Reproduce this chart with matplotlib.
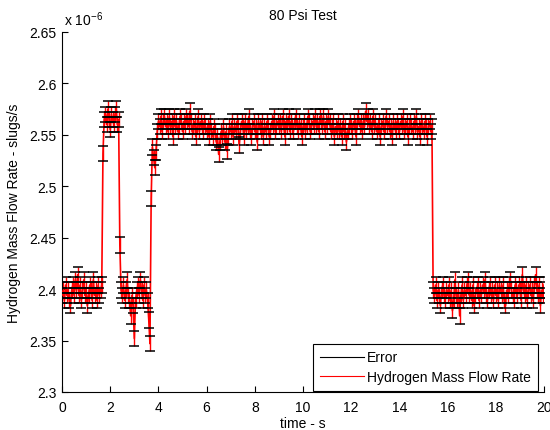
import matplotlib
matplotlib.use("Agg")
import matplotlib.pyplot as plt
import numpy as np
from matplotlib.lines import Line2D

plt.rcParams['font.family'] = ['Liberation Sans', 'DejaVu Sans']
plt.rcParams['font.size'] = 10
plt.rcParams['mathtext.fontset'] = 'custom'
plt.rcParams['mathtext.rm'] = 'Liberation Sans'

# Hydrogen mass flow rate (x 1e-6 slugs/s), sampled every 0.05 s from 0 to 20 s
dt = 0.05

low_start = [2.394, 2.399, 2.389, 2.404, 2.394, 2.399, 2.389, 2.384, 2.399, 2.404,
             2.394, 2.409, 2.399, 2.414, 2.394, 2.404, 2.389, 2.399, 2.409, 2.394,
             2.399, 2.384, 2.394, 2.404, 2.399, 2.389, 2.409, 2.394, 2.399, 2.389,
             2.404, 2.394, 2.399, 2.404]
rise_1 = [2.532]
high_short = [2.565, 2.570, 2.560, 2.575, 2.565, 2.555, 2.570, 2.565, 2.560, 2.570,
              2.575, 2.560, 2.565]
fall_1 = [2.443]
low_mid = [2.399, 2.394, 2.404, 2.389, 2.399, 2.409, 2.394, 2.389, 2.374, 2.394,
           2.384, 2.352, 2.389, 2.399, 2.404, 2.394, 2.409, 2.399, 2.389, 2.404,
           2.394, 2.399, 2.389]
dip = [2.370, 2.347]
rise_2 = [2.488, 2.538, 2.528, 2.518, 2.533, 2.553]
high_long = [2.563, 2.558, 2.568, 2.553, 2.563, 2.568, 2.558, 2.563, 2.553, 2.568,
             2.558, 2.563, 2.548, 2.568, 2.558, 2.563, 2.553, 2.558, 2.568, 2.563,
             2.553, 2.563, 2.558, 2.568, 2.563, 2.558, 2.573, 2.563, 2.553, 2.558,
             2.563, 2.548, 2.558, 2.568, 2.553, 2.563, 2.558, 2.553, 2.563, 2.558,
             2.553, 2.558, 2.548, 2.563, 2.553, 2.548, 2.558, 2.553, 2.543, 2.548,
             2.531, 2.543, 2.553, 2.548, 2.558, 2.543, 2.553, 2.534, 2.548, 2.558,
             2.553, 2.563, 2.548, 2.558, 2.553, 2.563, 2.558, 2.540, 2.553, 2.563,
             2.558, 2.548, 2.563, 2.553, 2.558, 2.568, 2.553, 2.548, 2.558, 2.563,
             2.553, 2.558, 2.543, 2.563, 2.558, 2.553, 2.563, 2.548, 2.558, 2.553,
             2.563, 2.558, 2.548, 2.553, 2.563, 2.558, 2.568, 2.553, 2.558, 2.563,
             2.558, 2.563, 2.553, 2.568, 2.558, 2.548, 2.563, 2.558, 2.568, 2.553,
             2.563, 2.558, 2.553, 2.563, 2.568, 2.558, 2.553, 2.563, 2.558, 2.548,
             2.558, 2.563, 2.553, 2.558, 2.568, 2.563, 2.553, 2.558, 2.563, 2.558,
             2.568, 2.558, 2.563, 2.553, 2.568, 2.563, 2.558, 2.568, 2.553, 2.563,
             2.558, 2.568, 2.563, 2.553, 2.558, 2.563, 2.548, 2.558, 2.553, 2.563,
             2.553, 2.558, 2.548, 2.563, 2.553, 2.558, 2.543, 2.553, 2.558, 2.563,
             2.558, 2.553, 2.563, 2.558, 2.548, 2.563, 2.568, 2.558, 2.563, 2.553,
             2.563, 2.558, 2.573, 2.563, 2.568, 2.558, 2.563, 2.553, 2.568, 2.558,
             2.563, 2.553, 2.558, 2.563, 2.548, 2.558, 2.563, 2.553, 2.558, 2.568,
             2.558, 2.563, 2.553, 2.558, 2.548, 2.563, 2.558, 2.553, 2.563, 2.558,
             2.553, 2.563, 2.558, 2.568, 2.553, 2.558, 2.563, 2.548, 2.558, 2.563,
             2.558, 2.553, 2.563, 2.558, 2.568, 2.553, 2.558, 2.548, 2.563, 2.558,
             2.553, 2.563, 2.558, 2.548, 2.558, 2.563, 2.553, 2.558]
low_end = [2.399, 2.394, 2.404, 2.389, 2.399, 2.394, 2.384, 2.399, 2.404, 2.394,
           2.389, 2.399, 2.394, 2.404, 2.389, 2.399, 2.379, 2.389, 2.409, 2.394,
           2.389, 2.399, 2.374, 2.394, 2.404, 2.389, 2.399, 2.394, 2.404, 2.409,
           2.394, 2.399, 2.389, 2.404, 2.384, 2.394, 2.399, 2.404, 2.389, 2.399,
           2.394, 2.404, 2.399, 2.409, 2.394, 2.389, 2.399, 2.404, 2.394, 2.399,
           2.389, 2.404, 2.394, 2.399, 2.389, 2.404, 2.399, 2.394, 2.404, 2.389,
           2.384, 2.399, 2.394, 2.404, 2.409, 2.399, 2.394, 2.389, 2.404, 2.399,
           2.394, 2.404, 2.399, 2.389, 2.414, 2.399, 2.394, 2.404, 2.389, 2.399,
           2.404, 2.394, 2.399, 2.389, 2.404, 2.414, 2.399, 2.394, 2.404, 2.384,
           2.399, 2.394, 2.404]

flow_err = 0.0075

flow = np.array(low_start + rise_1 + high_short + fall_1 + low_mid + dip
                + rise_2 + high_long + low_end)
time = np.arange(len(flow)) * dt

fig = plt.figure(figsize=(5.5, 4.31), dpi=100)
ax = fig.add_axes([62 / 550, 38 / 431, 482 / 550, 360 / 431])

# error bars: red stems with black caps, flow line drawn over the stems
eb = ax.errorbar(time, flow, yerr=flow_err, fmt='none', ecolor='r',
                 elinewidth=1.0, capsize=3.5, capthick=1.1, zorder=2)
for cap in eb[1]:
    cap.set_markeredgecolor('k')
    cap.set_markerfacecolor('k')
    cap.set_zorder(4)
ax.plot(time, flow, color='r', linewidth=1.2, zorder=3)

ax.set_xlim(0, 20)
ax.set_ylim(2.3, 2.65)
ax.set_xticks(np.arange(0, 21, 2))
ax.set_yticks([2.3, 2.35, 2.4, 2.45, 2.5, 2.55, 2.6, 2.65])
ax.set_yticklabels(['2.3', '2.35', '2.4', '2.45', '2.5', '2.55', '2.6', '2.65'])

for side in ['top', 'right']:
    ax.spines[side].set_visible(False)
for side in ['left', 'bottom']:
    ax.spines[side].set_linewidth(0.8)
ax.tick_params(direction='in', length=4, width=0.8, labelsize=10)
ax.tick_params(axis='x', pad=6)
ax.tick_params(axis='y', pad=4)

ax.set_title('80 Psi Test', fontsize=10, pad=9)
ax.set_xlabel('time - s', fontsize=10, labelpad=1)
ax.set_ylabel('Hydrogen Mass Flow Rate - slugs/s', fontsize=10, labelpad=6)
ax.text(0.004, 1.02, r'x 10$^{-6}$', transform=ax.transAxes,
        ha='left', va='baseline', fontsize=10)

handles = [Line2D([], [], color='k', linewidth=0.8),
           Line2D([], [], color='r', linewidth=0.8)]
leg = ax.legend(handles, ['Error', 'Hydrogen Mass Flow Rate'],
                loc='lower right', bbox_to_anchor=(538 / 550, 39 / 431),
                bbox_transform=fig.transFigure, borderaxespad=0,
                fancybox=False, framealpha=1, edgecolor='k',
                handlelength=3.2, handletextpad=0.2, borderpad=0.5,
                labelspacing=0.4, fontsize=10)
leg.get_frame().set_linewidth(0.8)
leg.set_zorder(5)

fig.savefig('out.png', dpi=100)
